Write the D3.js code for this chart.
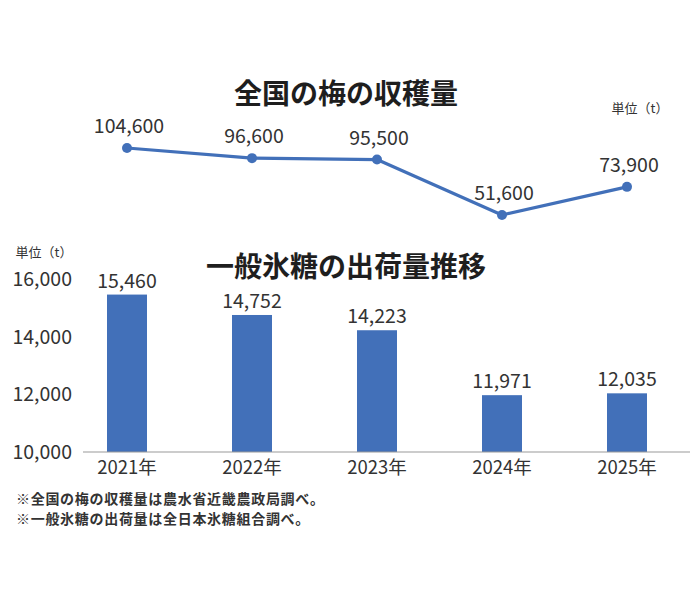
<!DOCTYPE html>
<html><head><meta charset="utf-8">
<script src="https://cdn.jsdelivr.net/npm/d3@7"></script>
<style>
body{margin:0;background:#fff;}
text{font-family:"Noto Sans CJK JP","Noto Sans",sans-serif;}
</style></head>
<body><svg id="c" width="696" height="597"></svg>
<script>
const years = ["2021年","2022年","2023年","2024年","2025年"];
const harvest = [104600, 96600, 95500, 51600, 73900];
const shipments = [15460, 14752, 14223, 11971, 12035];
const yTicks = [10000, 12000, 14000, 16000];
const title1 = "全国の梅の収穫量";
const title2 = "一般氷糖の出荷量推移";
const unitLabel = "単位（t）";
const notes = ["※全国の梅の収穫量は農水省近畿農政局調べ。","※一般氷糖の出荷量は全日本氷糖組合調べ。"];

const svg = d3.select("#c");
const blue = "#4270b9";
const fmt = d3.format(",");

const x = d3.scaleBand().domain(years).range([64.5, 689.5]).paddingInner(0.68).paddingOuter(0.34);
const yBar = d3.scaleLinear().domain([10000, 16000]).range([452, 279]);
const yLine = d3.scaleLinear().domain([40000, 110000]).range([229.7, 141.2]);
const cx = d => x(d) + x.bandwidth()/2;

// Titles
svg.append("text").attr("x", 346).attr("y", 104).attr("text-anchor","middle")
  .attr("font-size", 28).attr("font-weight", 700).attr("fill","#1e1e1e").text(title1);
svg.append("text").attr("x", 346).attr("y", 277).attr("text-anchor","middle")
  .attr("font-size", 28).attr("font-weight", 700).attr("fill","#1e1e1e").text(title2);

// units
svg.append("text").attr("x", 640).attr("y", 113).attr("text-anchor","middle")
  .attr("font-size", 13).attr("fill","#333").text(unitLabel);
svg.append("text").attr("x", 44).attr("y", 257).attr("text-anchor","middle")
  .attr("font-size", 13).attr("fill","#333").text(unitLabel);

// Line chart
const line = d3.line().x((d,i)=>cx(years[i])).y(d=>yLine(d));
svg.append("path").datum(harvest).attr("d", line).attr("fill","none")
  .attr("stroke", blue).attr("stroke-width", 3.2).attr("stroke-linejoin","round");
svg.selectAll(".dot").data(harvest).enter().append("circle")
  .attr("cx",(d,i)=>cx(years[i])).attr("cy",d=>yLine(d)).attr("r",5).attr("fill",blue);
svg.selectAll(".hl").data(harvest).enter().append("text")
  .attr("x",(d,i)=>cx(years[i])+2).attr("y",d=>yLine(d)-15).attr("text-anchor","middle")
  .attr("font-size",19.5).attr("fill","#333").text(d=>fmt(d));

// Bar chart
svg.selectAll(".bar").data(shipments).enter().append("rect")
  .attr("x",(d,i)=>x(years[i])).attr("width",x.bandwidth())
  .attr("y",d=>yBar(d)).attr("height",d=>yBar(10000)-yBar(d)).attr("fill",blue);
svg.selectAll(".bl").data(shipments).enter().append("text")
  .attr("x",(d,i)=>cx(years[i])).attr("y",d=>yBar(d)-7).attr("text-anchor","middle")
  .attr("font-size",19.5).attr("fill","#333").text(d=>fmt(d));

// baseline
svg.append("line").attr("x1",83).attr("x2",690).attr("y1",yBar(10000)).attr("y2",yBar(10000))
  .attr("stroke","#999").attr("stroke-width",1.2);

// y axis labels
svg.selectAll(".yt").data(yTicks).enter().append("text")
  .attr("x",72).attr("y",d=>yBar(d)+7).attr("text-anchor","end")
  .attr("font-size",19.5).attr("fill","#333").text(d=>fmt(d));

// x labels
svg.selectAll(".xl").data(years).enter().append("text")
  .attr("x",d=>cx(d)).attr("y",474).attr("text-anchor","middle")
  .attr("font-size",18.5).attr("fill","#333").text(d=>d);

// notes
svg.selectAll(".note").data(notes).enter().append("text")
  .attr("x",16).attr("y",(d,i)=>504+i*20).attr("font-size",14).attr("font-weight",700)
  .attr("letter-spacing",0.7).attr("fill","#333").text(d=>d);
</script></body></html>
